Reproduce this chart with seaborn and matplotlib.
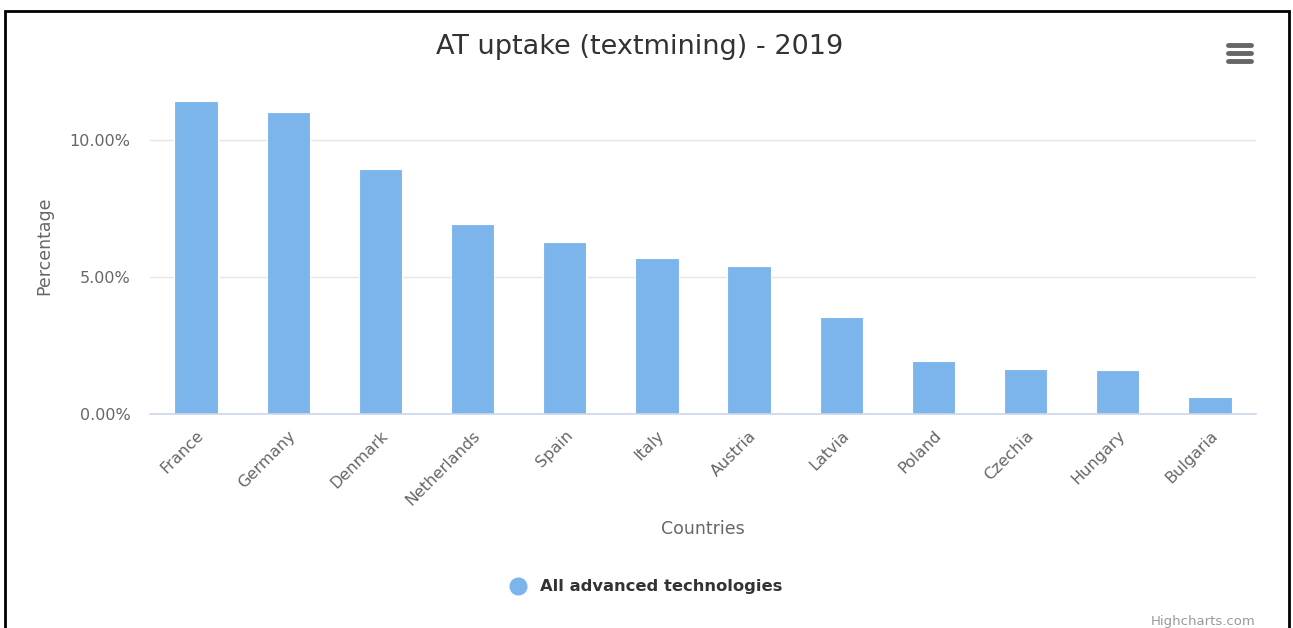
import matplotlib
matplotlib.use("Agg")
import matplotlib.pyplot as plt
from matplotlib.lines import Line2D
from matplotlib.patches import Rectangle
from matplotlib.ticker import FuncFormatter, MultipleLocator
import pandas as pd
import seaborn as sns

countries = ["France", "Germany", "Denmark", "Netherlands", "Spain", "Italy",
             "Austria", "Latvia", "Poland", "Czechia", "Hungary", "Bulgaria"]
uptake = [11.42, 11.02, 8.94, 6.93, 6.28, 5.69, 5.40, 3.55, 1.92, 1.64, 1.59, 0.63]
series_name = "All advanced technologies"
title = "AT uptake (textmining) - 2019"

df = pd.DataFrame({"Countries": countries, "Percentage": uptake})

sns.set_style("white")
plt.rcParams["font.family"] = ["DejaVu Sans"]

bar_color = "#7cb5ec"
fig = plt.figure(figsize=(12.93, 6.28), dpi=100)
ax = fig.add_axes([150 / 1293, 1 - 414 / 628, (1256 - 150) / 1293, (414 - 77) / 628])

sns.barplot(data=df, x="Countries", y="Percentage", color=bar_color, width=0.47,
            saturation=1, edgecolor="white", linewidth=0.8, ax=ax)

ax.set_ylim(0, 12.3)
ax.set_xlim(-0.5, len(countries) - 0.5)
ax.yaxis.set_major_locator(MultipleLocator(5))
ax.yaxis.set_major_formatter(FuncFormatter(lambda v, p: f"{v:.2f}%"))
ax.grid(axis="y", color="#e6e6e6", linewidth=1)
ax.set_axisbelow(True)
for s in ["top", "right", "left"]:
    ax.spines[s].set_visible(False)
ax.spines["bottom"].set_color("#ccd6eb")
ax.spines["bottom"].set_linewidth(1.2)
ax.tick_params(axis="both", length=0, colors="#666666", labelsize=11.5)
ax.tick_params(axis="y", pad=14)
plt.setp(ax.get_xticklabels(), rotation=45, ha="right", rotation_mode="anchor")
ax.tick_params(axis="x", pad=10)

ax.set_xlabel("Countries", fontsize=12.5, color="#666666", labelpad=9)
ax.set_ylabel("Percentage", fontsize=12.5, color="#666666", labelpad=12)

fig.text(640 / 1293, 1 - 47 / 628, title, ha="center", va="center",
         fontsize=19.5, color="#333333")

handle = Line2D([], [], marker="o", linestyle="none", markersize=12,
                markerfacecolor=bar_color, markeredgecolor=bar_color)
fig.legend(handles=[handle], labels=[series_name], loc="center",
           bbox_to_anchor=(642 / 1293, 1 - 587 / 628), frameon=False,
           prop={"size": 11.8, "weight": "bold"}, labelcolor="#333333",
           handletextpad=0.3)

fig.text(1256 / 1293, 1 - 621 / 628, "Highcharts.com", ha="right", va="center",
         fontsize=9.5, color="#999999")

# menu icon
for yy in [45, 53, 61]:
    fig.add_artist(Line2D([1228 / 1293, 1251 / 1293], [1 - yy / 628] * 2,
                          color="#666666", linewidth=3.5, solid_capstyle="round"))

# screenshot frame
fig.add_artist(Rectangle((5 / 1293, -0.01), (1289 - 5) / 1293, 1 - 11 / 628 + 0.01,
                         transform=fig.transFigure, fill=False,
                         edgecolor="black", linewidth=2))

fig.savefig("out.png", dpi=100)
